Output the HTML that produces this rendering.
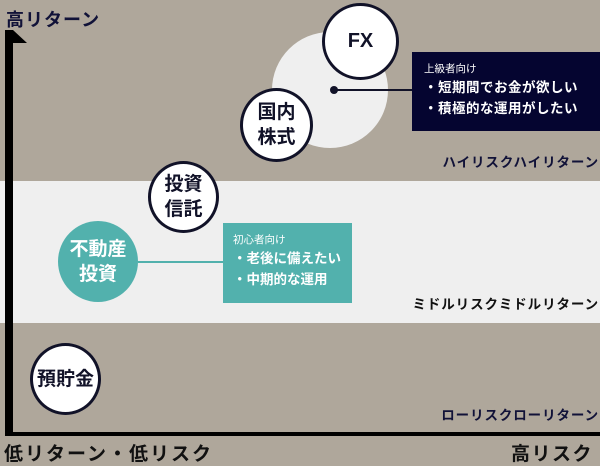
<!DOCTYPE html>
<html><head><meta charset="utf-8"><style>
body{margin:0;width:600px;height:461px;overflow:hidden;background:#afa79b;position:relative;font-family:"Liberation Sans","Noto Sans CJK JP",sans-serif;}
.a{position:absolute}
.c{position:absolute;border-radius:50%;box-sizing:border-box;border:3px solid #111228;background:#fff;display:flex;align-items:center;justify-content:center;text-align:center;font-weight:bold;color:#111228;font-size:19px;line-height:25px}
.lbl{position:absolute;font-weight:bold;font-size:13.5px;letter-spacing:0.9px;white-space:nowrap}
.box{position:absolute;color:#fff;font-weight:bold;box-sizing:border-box}
</style></head><body>
<div class="a" style="left:0;top:181px;width:600px;height:142px;background:#efefef"></div>
<div class="a" style="left:5px;top:30px;width:8px;height:406px;background:#000"></div>
<svg class="a" style="left:0;top:0" width="40" height="50"><polygon points="13,30 27,43 13,43" fill="#000"/></svg>
<div class="a" style="left:5px;top:432px;width:595px;height:4px;background:#000"></div>
<div class="lbl" style="left:6px;top:6px;font-size:18px;color:#111238;letter-spacing:1px">高リターン</div>
<div class="lbl" style="left:4px;top:439px;font-size:19px;color:#111;letter-spacing:2px">低リターン・低リスク</div>
<div class="lbl" style="left:511px;top:439px;font-size:19px;color:#111;letter-spacing:1.5px">高リスク</div>
<div class="a" style="left:272px;top:32px;width:116px;height:116px;border-radius:50%;background:#efefef"></div>
<div class="a" style="left:334px;top:89px;width:78px;height:2px;background:#111228"></div>
<div class="a" style="left:330px;top:86px;width:8px;height:8px;border-radius:50%;background:#111228"></div>
<div class="c" style="left:322px;top:3px;width:77px;height:77px;font-size:20px">FX</div>
<div class="c" style="left:240px;top:88px;width:73px;height:74px">国内<br>株式</div>
<div class="c" style="left:148px;top:161px;width:71px;height:72px">投資<br>信託</div>
<div class="c" style="left:30px;top:343px;width:71px;height:72px">預貯金</div>
<div class="a" style="left:138px;top:261px;width:85px;height:2px;background:#52b1ad"></div>
<div class="c" style="left:58px;top:221px;width:80px;height:81px;background:#52b1ad;border:none;color:#fff">不動産<br>投資</div>
<div class="box" style="left:412px;top:52px;width:188px;height:79px;background:#050530;padding:9px 0 0 12px">
<div style="font-size:10.5px;font-weight:normal;line-height:16px">上級者向け</div>
<div style="font-size:13.5px;line-height:21px;letter-spacing:0.5px">・短期間でお金が欲しい<br>・積極的な運用がしたい</div></div>
<div class="box" style="left:223px;top:223px;width:129px;height:80px;background:#52b1ad;padding:9px 0 0 10px">
<div style="font-size:10.5px;font-weight:normal;line-height:16px">初心者向け</div>
<div style="font-size:13.5px;line-height:21px">・老後に備えたい<br>・中期的な運用</div></div>
<div class="lbl" style="right:1px;top:151px;color:#111238">ハイリスクハイリターン</div>
<div class="lbl" style="right:1px;top:293px;color:#111">ミドルリスクミドルリターン</div>
<div class="lbl" style="right:1px;top:404px;color:#111238">ローリスクローリターン</div>
</body></html>
